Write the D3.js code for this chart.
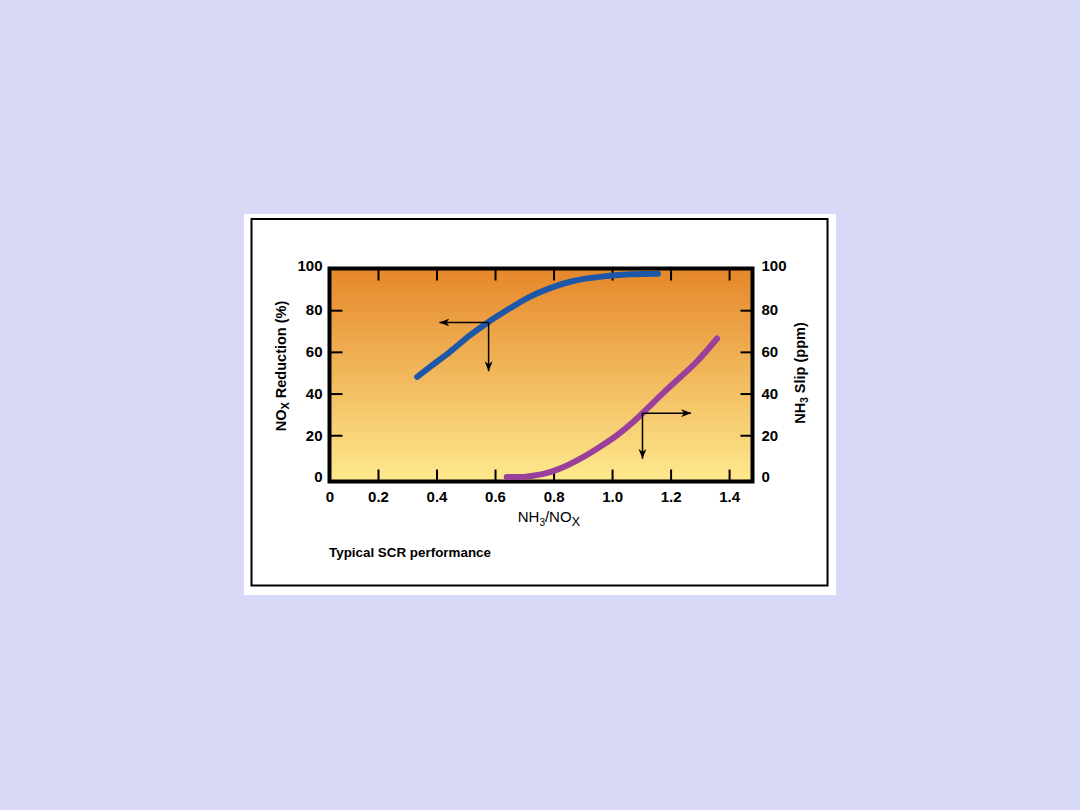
<!DOCTYPE html>
<meta charset="utf-8">
<style>
body {
  margin: 0;
  background: #d8d9f7;
  font-family: Arial, "Liberation Sans", sans-serif;
}
.tick text {
  font: bold 15px Arial, "Liberation Sans", sans-serif;
  fill: #000;
}
.tick line {
  stroke: #000;
  stroke-width: 2px;
}
.domain {
  display: none;
}
</style>
<body>
<svg id="chart" width="1080" height="810"></svg>
<script src="https://cdn.jsdelivr.net/npm/d3@7"></script>
<script>

// NH3/NOx ratio vs NOx reduction (%)
var noxRatio     = [0.334, 0.378, 0.446, 0.515, 0.575, 0.651, 0.720, 0.788, 0.867, 0.983, 1.062, 1.157];
var noxReduction = [48.0, 52.8, 60.0, 68.0, 74.1, 80.9, 86.5, 90.6, 94.0, 96.4, 97.2, 97.5];

// NH3/NOx ratio vs NH3 slip (ppm)
var slipRatio = [0.640, 0.685, 0.730, 0.788, 0.846, 0.901, 0.959, 1.017, 1.072, 1.106, 1.175, 1.233, 1.291, 1.359];
var slipPpm   = [0.0, 0.0, 0.6, 2.3, 5.5, 9.5, 14.5, 20.0, 26.3, 30.8, 40.3, 47.8, 55.5, 66.4];

var xTicks = [0, 0.2, 0.4, 0.6, 0.8, 1.0, 1.2, 1.4];
var xTickLabels = ["0", "0.2", "0.4", "0.6", "0.8", "1.0", "1.2", "1.4"];
var yTicks = [0, 20, 40, 60, 80, 100];

// arrows: [ratio, value, arrow tip on x, arrow tip on y]
var noxArrow  = [0.578, 74.1, 0.41, 50.7];
var slipArrow = [1.104, 30.6, 1.27, 8.7];

var svg = d3.select("#chart");

var panel = {x: 244, y: 214, w: 592, h: 381};
var plot = {left: 329.5, top: 268.5, right: 752.5, bottom: 481.5};

// the first interval of the original x axis is drawn narrower than the rest
var x = d3.scaleLinear().domain([0, 0.2, 1.48]).range([plot.left, 378, plot.right]);
var y = d3.scaleLinear().domain([-2.2, 100]).range([plot.bottom, plot.top]);

svg.append("rect")
    .attr("x", panel.x).attr("y", panel.y)
    .attr("width", panel.w).attr("height", panel.h)
    .attr("fill", "#fff");

svg.append("rect")
    .attr("x", 251.5).attr("y", 219)
    .attr("width", 576).attr("height", 366.5)
    .attr("fill", "none")
    .attr("stroke", "#000")
    .attr("stroke-width", 2);

var defs = svg.append("defs");
var grad = defs.append("linearGradient")
    .attr("id", "bg")
    .attr("x1", 0).attr("y1", 0).attr("x2", 0).attr("y2", 1);
grad.append("stop").attr("offset", "0%").attr("stop-color", "#e5872a");
grad.append("stop").attr("offset", "100%").attr("stop-color", "#fee98e");

defs.append("marker")
    .attr("id", "head")
    .attr("viewBox", "0 0 10 8")
    .attr("refX", 10).attr("refY", 4)
    .attr("markerWidth", 10).attr("markerHeight", 8)
    .attr("markerUnits", "userSpaceOnUse")
    .attr("orient", "auto")
  .append("path")
    .attr("d", "M0,0L10,4L0,8L3,4Z")
    .attr("fill", "#000");

svg.append("rect")
    .attr("x", plot.left).attr("y", plot.top)
    .attr("width", plot.right - plot.left)
    .attr("height", plot.bottom - plot.top)
    .attr("fill", "url(#bg)");

// axes
svg.append("g")
    .attr("transform", "translate(0," + plot.bottom + ")")
    .call(d3.axisBottom(x).tickValues(xTicks).tickSize(-12).tickPadding(10)
      .tickFormat(function(d, i) { return xTickLabels[i]; }))
    .selectAll(".tick line").filter(function(d) { return d === 0; }).remove();

svg.append("g")
    .attr("transform", "translate(0," + plot.top + ")")
    .call(d3.axisTop(x).tickValues(xTicks.slice(1)).tickSize(-12).tickFormat(""));

var yl = svg.append("g")
    .attr("transform", "translate(" + plot.left + ",0)")
    .call(d3.axisLeft(y).tickValues(yTicks).tickSize(-13).tickPadding(7));
yl.selectAll(".tick line").filter(function(d) { return d === 0 || d === 100; }).remove();

var yr = svg.append("g")
    .attr("transform", "translate(" + plot.right + ",0)")
    .call(d3.axisRight(y).tickValues(yTicks).tickSize(-12).tickPadding(9));
yr.selectAll(".tick line").filter(function(d) { return d === 0 || d === 100; }).remove();

// the top labels sit just above the frame
svg.selectAll(".tick").filter(function(d) { return d === 100; })
    .select("text").attr("y", -3);

// frame
svg.append("rect")
    .attr("x", plot.left).attr("y", plot.top)
    .attr("width", plot.right - plot.left)
    .attr("height", plot.bottom - plot.top)
    .attr("fill", "none")
    .attr("stroke", "#000")
    .attr("stroke-width", 4);

// curves
var line = d3.line()
    .curve(d3.curveMonotoneX)
    .x(function(d) { return x(d[0]); })
    .y(function(d) { return y(d[1]); });

svg.append("path")
    .datum(d3.zip(noxRatio, noxReduction))
    .attr("d", line)
    .attr("fill", "none")
    .attr("stroke", "#1c57a9")
    .attr("stroke-width", 6)
    .attr("stroke-linecap", "round");

svg.append("path")
    .datum(d3.zip(slipRatio, slipPpm))
    .attr("d", line)
    .attr("fill", "none")
    .attr("stroke", "#9a409b")
    .attr("stroke-width", 6)
    .attr("stroke-linecap", "round");

function arrows(a) {
  var g = svg.append("g")
      .attr("stroke", "#000")
      .attr("stroke-width", 1.5)
      .attr("marker-end", "url(#head)");
  g.append("line")
      .attr("x1", x(a[0])).attr("y1", y(a[1]))
      .attr("x2", x(a[2])).attr("y2", y(a[1]));
  g.append("line")
      .attr("x1", x(a[0])).attr("y1", y(a[1]))
      .attr("x2", x(a[0])).attr("y2", y(a[3]));
}
arrows(noxArrow);
arrows(slipArrow);

// titles
var xt = svg.append("text")
    .attr("x", 549).attr("y", 522)
    .attr("text-anchor", "middle")
    .style("font-size", "15px");
xt.append("tspan").text("NH");
xt.append("tspan").attr("dy", 4).style("font-size", "10px").text("3");
xt.append("tspan").attr("dy", -4).text("/NO");
xt.append("tspan").attr("dy", 4).style("font-size", "13px").text("X");

var ylt = svg.append("text")
    .attr("transform", "translate(286,366) rotate(-90)")
    .attr("text-anchor", "middle")
    .style("font-size", "14.5px")
    .style("font-weight", "bold");
ylt.append("tspan").text("NO");
ylt.append("tspan").attr("dy", 3).style("font-size", "11px").text("X");
ylt.append("tspan").attr("dy", -3).text(" Reduction (%)");

var yrt = svg.append("text")
    .attr("transform", "translate(805,373) rotate(-90)")
    .attr("text-anchor", "middle")
    .style("font-size", "14.5px")
    .style("font-weight", "bold");
yrt.append("tspan").text("NH");
yrt.append("tspan").attr("dy", 3).style("font-size", "10px").text("3");
yrt.append("tspan").attr("dy", -3).text(" Slip (ppm)");

svg.append("text")
    .attr("x", 329).attr("y", 557)
    .style("font-size", "13.4px")
    .style("font-weight", "bold")
    .text("Typical SCR performance");

</script>
</body>
</html>
